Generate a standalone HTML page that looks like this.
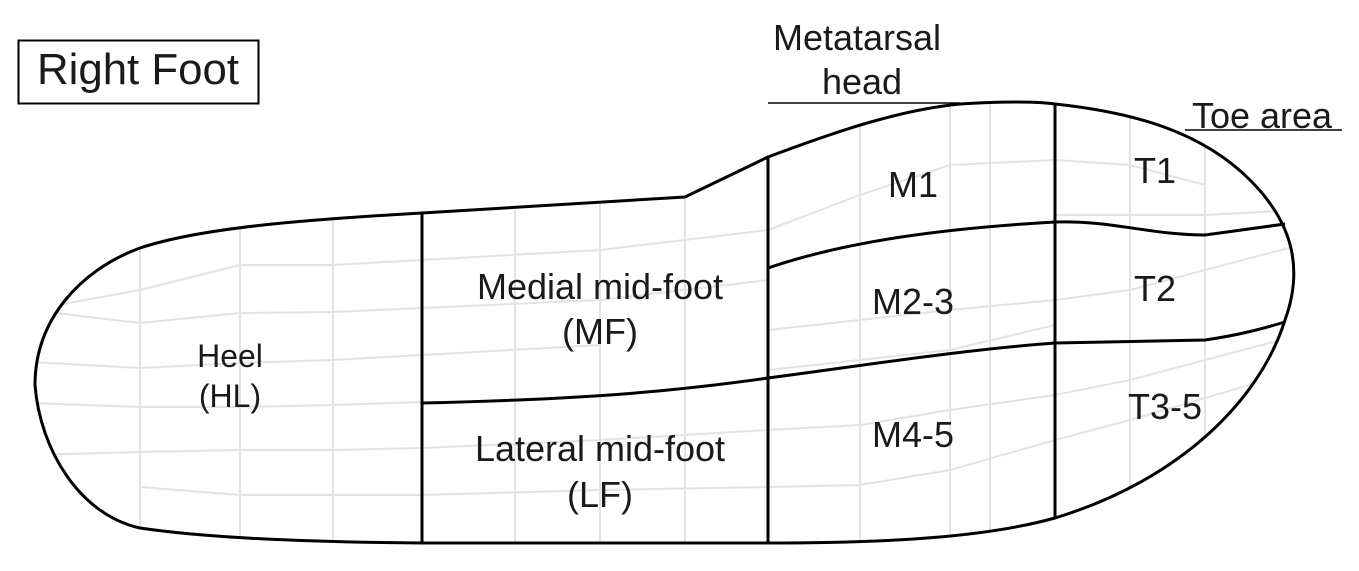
<!DOCTYPE html>
<html><head><meta charset="utf-8"><style>
body{margin:0;background:#fff;width:1359px;height:566px;overflow:hidden}
svg text{font-family:"Liberation Sans",sans-serif;fill:#1a1a1a}
</style></head><body>
<svg width="1359" height="566" viewBox="0 0 1359 566" xmlns="http://www.w3.org/2000/svg">
<defs><clipPath id="c"><path id="o" d="M140,248 C200,228 300,220 422,213 L685,197 L768,157 C840,130 900,110 960,104 C1010,101 1040,102 1055,104 C1130,112 1200,130 1250,180 C1290,220 1305,265 1285,320 C1260,400 1180,480 1055,518 C990,536 900,543 768,543 L422,543 C300,542 200,537 140,528 C80,515 40,450 35,385 C35,320 80,270 140,248 Z"/></clipPath></defs>
<g clip-path="url(#c)" stroke="#e3e3e3" stroke-width="2" fill="none">
<path d="M140,200V560M240,200V560M333,200V560M515,180V560M600,180V560M685,180V560M860,90V560M950,90V560M990,90V560M1130,90V560M1205,90V560"/>
<path d="M30,310 L140,290 L240,265 L333,265 L422,260 L600,250 L768,230 L860,195 L950,165 L1055,160 L1130,165 L1205,185"/>
<path d="M30,310 L140,323 L240,313 L333,312 L422,308 L600,300 L768,280"/>
<path d="M30,362 L140,368 L240,363 L333,360 L422,355 L600,345"/>
<path d="M30,403 L140,407 L240,407 L333,405 L422,402"/>
<path d="M30,455 L140,452 L240,450 L333,450 L422,448 L600,440 L768,430 L860,425 L950,410 L1055,395 L1130,380 L1205,360 L1300,335"/>
<path d="M140,487 L240,495 L333,495 L422,495 L600,490 L768,487 L860,485 L950,470 L1055,440 L1130,420 L1300,370"/>
<path d="M768,330 L860,320 L950,310 L1055,300 L1130,290 L1205,270 L1300,245"/>
<path d="M768,370 L860,360 L950,350 L1055,325"/>
<path d="M1055,215 L1130,215 L1205,215 L1300,210"/>
</g>
<g stroke="#000" stroke-width="3" fill="none">
<use href="#o"/>
<path d="M422,213V543M768,157V543M1055,104V518"/>
<path d="M422,403 C550,400 650,395 768,378 C860,366 960,350 1055,343 L1205,340 C1240,335 1265,328 1285,322"/>
<path d="M768,268 C850,240 950,228 1055,222 C1110,220 1150,235 1205,235 L1285,224"/>
</g>
<g stroke="#000" stroke-width="1.5">
<line x1="768" y1="103" x2="960" y2="103"/>
<line x1="1185" y1="130" x2="1342" y2="130"/>
</g>
<rect x="18.5" y="40.5" width="240" height="63" fill="none" stroke="#000" stroke-width="2"/>
<text x="138" y="84" font-size="44" text-anchor="middle" textLength="202" lengthAdjust="spacingAndGlyphs">Right Foot</text>
<g font-size="36" text-anchor="middle">
<text x="857" y="50">Metatarsal</text><text x="862" y="94">head</text>
<text x="1262" y="128">Toe area</text>
<text x="600" y="299">Medial mid-foot</text><text x="600" y="344">(MF)</text>
<text x="600" y="461">Lateral mid-foot</text><text x="600" y="507">(LF)</text>
<text x="913" y="197">M1</text><text x="913" y="314">M2-3</text><text x="913" y="447">M4-5</text>
<text x="1155" y="183">T1</text><text x="1155" y="301">T2</text><text x="1165" y="419">T3-5</text>
</g>
<g font-size="32" text-anchor="middle"><text x="230" y="367">Heel</text><text x="230" y="407">(HL)</text></g>
</svg>
</body></html>
